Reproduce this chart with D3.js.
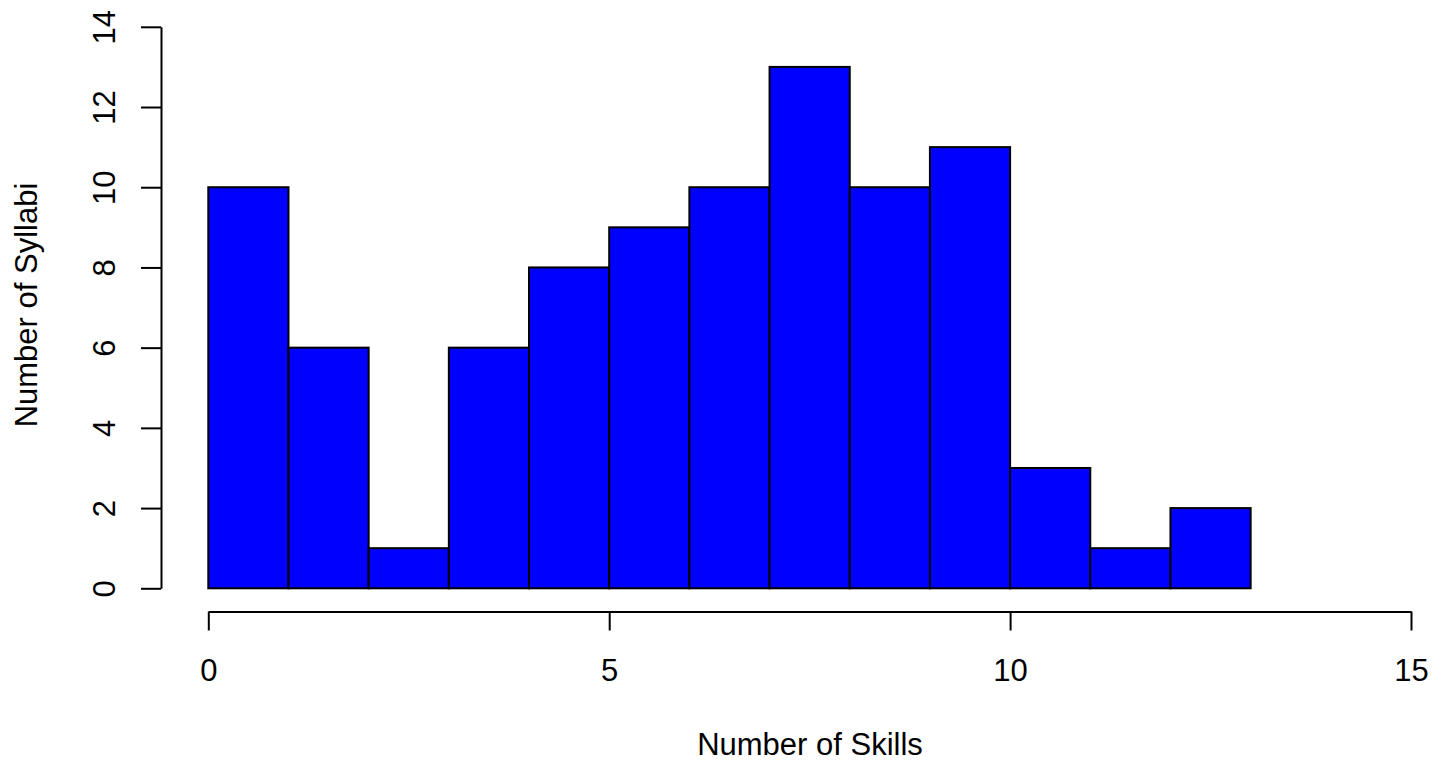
<!DOCTYPE html>
<html>
  <head>
    <meta charset="utf-8">
    <script src="https://d3js.org/d3.v7.min.js"></script>
    <style>
      body { margin: 0; background: #fff; }
      text { font-family: "Liberation Sans", Arial, sans-serif; fill: #000; }
    </style>
  </head>
  <body>
    <div class="chart"></div>
    <script>
      // histogram bins (lower edge) and counts
      var binStarts = [0, 1, 2, 3, 4, 5, 6, 7, 8, 9, 10, 11, 12];
      var counts = [10, 6, 1, 6, 8, 9, 10, 13, 10, 11, 3, 1, 2];
      var xTicks = [0, 5, 10, 15];
      var yTicks = [0, 2, 4, 6, 8, 10, 12, 14];

      var width = 1446, height = 761;
      var fontSize = 31;

      var svg = d3.select('.chart').append('svg')
          .attr('width', width)
          .attr('height', height);

      var x = d3.scaleLinear().domain([0, 15]).range([208.3, 1411]);
      var y = d3.scaleLinear().domain([0, 14]).range([588.3, 26.8]);

      svg.append('g')
        .selectAll('rect')
        .data(binStarts)
        .enter().append('rect')
          .attr('x', function(d) { return x(d); })
          .attr('y', function(d, i) { return y(counts[i]); })
          .attr('width', function(d) { return x(d + 1) - x(d); })
          .attr('height', function(d, i) { return y(0) - y(counts[i]); })
          .attr('fill', '#0000ff')
          .attr('stroke', '#000')
          .attr('stroke-width', 2);

      // x axis, R style (detached)
      var xAxis = svg.append('g')
          .attr('transform', 'translate(0,611.5)')
          .call(d3.axisBottom(x).tickValues(xTicks).tickSize(19).tickSizeOuter(0));
      xAxis.select('.domain').attr('stroke-width', 2);
      xAxis.selectAll('.tick line').attr('stroke-width', 2);
      xAxis.selectAll('text')
          .attr('font-size', fontSize)
          .style('font-family', '"Liberation Sans", Arial, sans-serif')
          .attr('y', 69).attr('dy', 0);

      // y axis
      var yAxis = svg.append('g')
          .attr('transform', 'translate(161,0)')
          .call(d3.axisLeft(y).tickValues(yTicks).tickSize(20).tickSizeOuter(0));
      yAxis.select('.domain').attr('stroke-width', 2);
      yAxis.selectAll('.tick line').attr('stroke-width', 2);
      yAxis.selectAll('text')
          .attr('font-size', fontSize)
          .style('font-family', '"Liberation Sans", Arial, sans-serif')
          .attr('x', 0).attr('y', 0).attr('dy', 0)
          .attr('text-anchor', 'middle')
          .attr('transform', 'translate(-46,0) rotate(-90)');

      svg.append('text')
          .attr('x', 810)
          .attr('y', 755)
          .attr('text-anchor', 'middle')
          .attr('font-size', fontSize)
          .text('Number of Skills');

      svg.append('text')
          .attr('transform', 'translate(37,305) rotate(-90)')
          .attr('text-anchor', 'middle')
          .attr('font-size', fontSize)
          .text('Number of Syllabi');
    </script>
  </body>
</html>
